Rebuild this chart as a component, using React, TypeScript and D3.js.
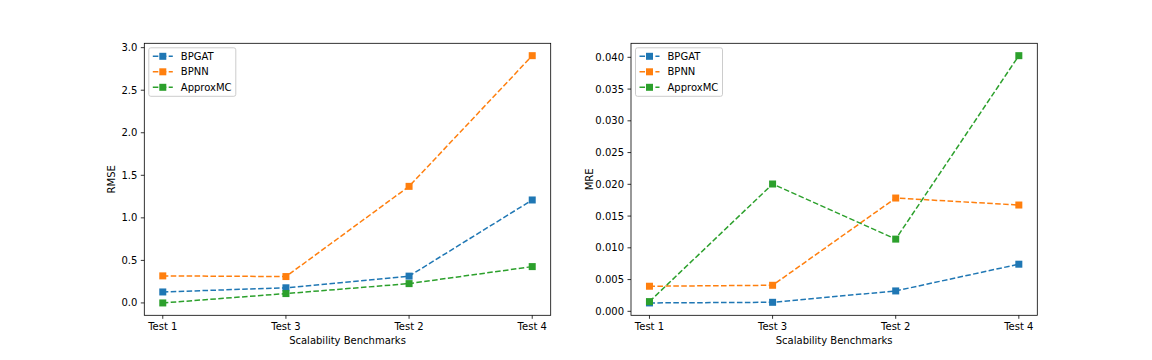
import { useEffect, useRef } from 'react'
import * as d3 from 'd3'

// benchmarks on the x axis, in plotted order
const categories = ['Test 1', 'Test 3', 'Test 2', 'Test 4']
const seriesNames = ['BPGAT', 'BPNN', 'ApproxMC']
const colors = ['#1f77b4', '#ff7f0e', '#2ca02c']

// RMSE per series
const rmseBPGAT = [0.129, 0.178, 0.315, 1.21]
const rmseBPNN = [0.318, 0.31, 1.37, 2.906]
const rmseApproxMC = [0.0, 0.11, 0.227, 0.427]

// MRE per series
const mreBPGAT = [0.00132, 0.00142, 0.00321, 0.00742]
const mreBPNN = [0.00395, 0.0041, 0.01784, 0.01674]
const mreApproxMC = [0.00153, 0.02005, 0.01137, 0.04026]

const rmseTicks = [0, 0.5, 1, 1.5, 2, 2.5, 3]
const mreTicks = [0, 0.005, 0.01, 0.015, 0.02, 0.025, 0.03, 0.035, 0.04]

const FONT = 'DejaVu Sans, sans-serif'
const MS = 7

export default function App() {
  const svgRef = useRef<SVGSVGElement>(null)

  useEffect(() => {
    if (!svgRef.current) return
    const width = 1152
    const height = 360
    const svg = d3.select(svgRef.current)
    svg.selectAll('*').remove()
    svg.attr('width', width).attr('height', height).style('background', '#fff')

    const drawPanel = (
      left: number,
      right: number,
      series: number[][],
      ticks: number[],
      fmt: (v: number) => string,
      ylabel: string,
      ylabelX: number
    ) => {
      const top = 43.3
      const bottom = 315.3
      const all = series.flat()
      const lo = d3.min(all)!
      const hi = d3.max(all)!
      const pad = (hi - lo) * 0.05

      const x = d3.scaleLinear().domain([-0.15, categories.length - 1 + 0.15]).range([left, right])
      const y = d3.scaleLinear().domain([lo - pad, hi + pad]).range([bottom, top])

      const g = svg.append('g')

      // lines + markers
      series.forEach((vals, si) => {
        const line = d3
          .line<number>()
          .x((_, i) => x(i))
          .y(d => y(d))
        g.append('path')
          .datum(vals)
          .attr('d', line)
          .attr('fill', 'none')
          .attr('stroke', colors[si])
          .attr('stroke-width', 1.5)
          .attr('stroke-dasharray', '5.55,2.4')
        g.selectAll(null)
          .data(vals)
          .enter()
          .append('rect')
          .attr('x', (_, i) => x(i) - MS / 2)
          .attr('y', d => y(d) - MS / 2)
          .attr('width', MS)
          .attr('height', MS)
          .attr('fill', colors[si])
      })

      // frame
      g.append('rect')
        .attr('x', left)
        .attr('y', top)
        .attr('width', right - left)
        .attr('height', bottom - top)
        .attr('fill', 'none')
        .attr('stroke', '#000')
        .attr('stroke-width', 0.8)

      // x ticks
      categories.forEach((c, i) => {
        g.append('line')
          .attr('x1', x(i))
          .attr('x2', x(i))
          .attr('y1', bottom)
          .attr('y2', bottom + 3.5)
          .attr('stroke', '#000')
          .attr('stroke-width', 0.8)
        g.append('text')
          .attr('x', x(i))
          .attr('y', bottom + 7)
          .attr('dy', '0.76em')
          .attr('text-anchor', 'middle')
          .style('font-family', FONT)
          .style('font-size', '10px')
          .attr('fill', '#000')
          .text(c)
      })

      // y ticks
      ticks.forEach(t => {
        g.append('line')
          .attr('x1', left - 3.5)
          .attr('x2', left)
          .attr('y1', y(t))
          .attr('y2', y(t))
          .attr('stroke', '#000')
          .attr('stroke-width', 0.8)
        g.append('text')
          .attr('x', left - 7)
          .attr('y', y(t))
          .attr('dy', '0.35em')
          .attr('text-anchor', 'end')
          .style('font-family', FONT)
          .style('font-size', '10px')
          .attr('fill', '#000')
          .text(fmt(t))
      })

      // axis labels
      g.append('text')
        .attr('x', (left + right) / 2)
        .attr('y', 344)
        .attr('text-anchor', 'middle')
        .style('font-family', FONT)
        .style('font-size', '10px')
        .text('Scalability Benchmarks')
      g.append('text')
        .attr('transform', `translate(${ylabelX}, ${(top + bottom) / 2}) rotate(-90)`)
        .attr('text-anchor', 'middle')
        .style('font-family', FONT)
        .style('font-size', '10px')
        .text(ylabel)

      // legend
      const lx = left + 4.5
      const ly = top + 4.5
      g.append('rect')
        .attr('x', lx)
        .attr('y', ly)
        .attr('width', 87)
        .attr('height', 48.5)
        .attr('rx', 2)
        .attr('fill', '#fff')
        .attr('fill-opacity', 0.8)
        .attr('stroke', '#ccc')
        .attr('stroke-width', 1)
      seriesNames.forEach((name, i) => {
        const yy = ly + 8.5 + i * 15.5
        g.append('line')
          .attr('x1', lx + 4)
          .attr('x2', lx + 24)
          .attr('y1', yy)
          .attr('y2', yy)
          .attr('stroke', colors[i])
          .attr('stroke-width', 1.5)
          .attr('stroke-dasharray', '5.55,2.4')
        g.append('rect')
          .attr('x', lx + 14 - MS / 2)
          .attr('y', yy - MS / 2)
          .attr('width', MS)
          .attr('height', MS)
          .attr('fill', colors[i])
        g.append('text')
          .attr('x', lx + 32)
          .attr('y', yy)
          .attr('dy', '0.35em')
          .style('font-family', FONT)
          .style('font-size', '10px')
          .attr('fill', '#000')
          .text(name)
      })
    }

    drawPanel(144.3, 550.7, [rmseBPGAT, rmseBPNN, rmseApproxMC], rmseTicks, v => v.toFixed(1), 'RMSE', 115)
    drawPanel(631, 1037.3, [mreBPGAT, mreBPNN, mreApproxMC], mreTicks, v => v.toFixed(3), 'MRE', 592.5)
  }, [])

  return (
    <div style={{ position: 'absolute', left: 0, top: 0 }}>
      <svg ref={svgRef}></svg>
    </div>
  )
}
